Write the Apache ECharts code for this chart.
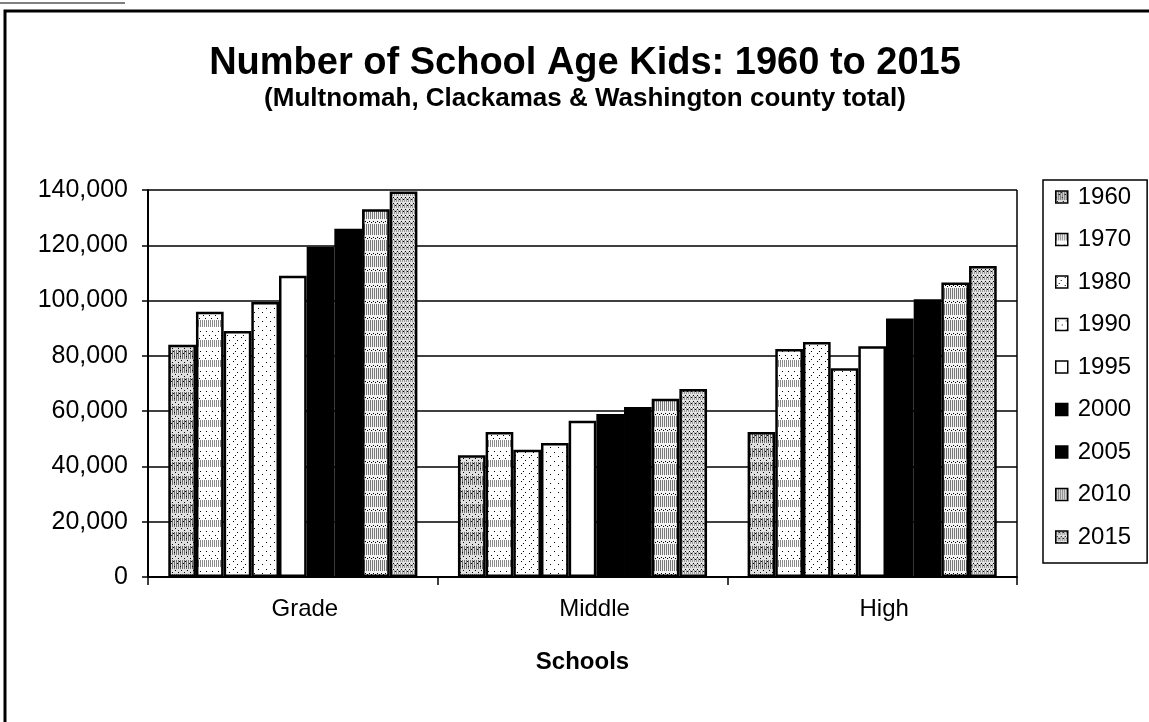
<!DOCTYPE html>
<html>
<head>
<meta charset="utf-8">
<script src="https://cdn.jsdelivr.net/npm/echarts@6/dist/echarts.min.js"></script>
<style>
  html, body { margin: 0; padding: 0; background: #fff; }
  #chart { width: 1149px; height: 722px; }
</style>
</head>
<body>
<div id="chart"></div>
<script>
// categories / series
var schools = ['Grade', 'Middle', 'High'];
var years = ['1960', '1970', '1980', '1990', '1995', '2000', '2005', '2010', '2015'];
var kids1960 = [84000, 44000, 52500];
var kids1970 = [96000, 52500, 82500];
var kids1980 = [89000, 46000, 85000];
var kids1990 = [99500, 48500, 75500];
var kids1995 = [109000, 56500, 83500];
var kids2000 = [119500, 59000, 93500];
var kids2005 = [126000, 61500, 100500];
var kids2010 = [133000, 64500, 106500];
var kids2015 = [139500, 68000, 112500];
var seriesValues = [kids1960, kids1970, kids1980, kids1990, kids1995, kids2000, kids2005, kids2010, kids2015];

// little fill textures to look like the printed hatching
function makePattern(w, h, bg, stripe, stripeRows, dots) {
  var c = document.createElement('canvas');
  c.width = w; c.height = h;
  var ctx = c.getContext('2d');
  ctx.fillStyle = bg;
  ctx.fillRect(0, 0, w, h);
  if (stripe) {
    ctx.fillStyle = stripe;
    for (var x = 0; x < w; x += 2) {
      ctx.fillRect(x, stripeRows[0], 1, stripeRows[1] - stripeRows[0]);
    }
  }
  ctx.fillStyle = '#000';
  (dots || []).forEach(function (d) { ctx.fillRect(d[0], d[1], 1, 1); });
  return { image: c, repeat: 'repeat' };
}

var fills = [
  makePattern(6, 14, '#e0e0e0', '#6e6e6e', [0, 9], [[1, 10], [4, 12], [3, 3], [0, 6], [5, 1]]),
  makePattern(6, 20, '#fff', '#8a8a8a', [0, 7], [[2, 11], [5, 15], [1, 18]]),
  makePattern(8, 8, '#fff', null, null, [[1, 1], [5, 4], [3, 7]]),
  makePattern(8, 9, '#fff', null, null, [[2, 2], [6, 6]]),
  '#fff',
  '#000',
  '#000',
  makePattern(4, 16, '#f2f2f2', '#777', [0, 11], [[1, 13], [3, 14]]),
  makePattern(4, 6, '#e2e2e2', '#9a9a9a', [0, 4], [[1, 5], [3, 1]])
];

var chart = echarts.init(document.getElementById('chart'));

var series = years.map(function (y, i) {
  return {
    name: y,
    type: 'bar',
    data: seriesValues[i],
    barGap: '0%',
    barCategoryGap: '14%',
    itemStyle: { color: fills[i], borderColor: '#000', borderWidth: 2.5 }
  };
});

var option = {
  backgroundColor: '#fff',
  animation: false,
  textStyle: { fontFamily: 'Liberation Sans', color: '#000' },
  title: {
    text: 'Number of School Age Kids: 1960 to 2015',
    subtext: '(Multnomah, Clackamas & Washington county total)',
    left: 580,
    textAlign: 'center',
    top: 40,
    itemGap: 3,
    textStyle: { fontSize: 38, fontWeight: 'bold', color: '#000', fontFamily: 'Liberation Sans' },
    subtextStyle: { fontSize: 26, fontWeight: 'bold', color: '#000', fontFamily: 'Liberation Sans' }
  },
  legend: {
    orient: 'vertical',
    left: 1043,
    top: 180,
    padding: [5, 16, 14, 12],
    icon: 'rect',
    itemWidth: 12,
    itemHeight: 12,
    itemGap: 18.5,
    itemStyle: { borderColor: '#000', borderWidth: 1.5 },
    borderColor: '#000',
    borderWidth: 1.5,
    textStyle: { fontSize: 24, color: '#000', padding: [0, 0, 0, 5], lineHeight: 24 },
    data: years
  },
  grid: { left: 148, right: 132, top: 190, bottom: 145 },
  xAxis: {
    type: 'category',
    data: schools,
    name: 'Schools',
    nameLocation: 'middle',
    nameGap: 73,
    nameTextStyle: { fontSize: 24, fontWeight: 'bold', color: '#000' },
    axisLine: { lineStyle: { color: '#000', width: 2 } },
    axisTick: { show: true, length: 8, lineStyle: { color: '#000', width: 1.5 } },
    axisLabel: { fontSize: 24, color: '#000', margin: 20, padding: [0, 0, 0, 24] }
  },
  yAxis: {
    type: 'value',
    min: 0,
    max: 140000,
    interval: 20000,
    axisLine: { show: true, lineStyle: { color: '#000', width: 2 } },
    axisTick: { show: true, length: 6, lineStyle: { color: '#000', width: 1.5 } },
    axisLabel: {
      fontSize: 25, color: '#000', margin: 20,
      formatter: function (v) { return v.toLocaleString('en-US'); }
    },
    splitLine: { lineStyle: { color: '#000', width: 1.5 } }
  },
  graphic: [
    // page frame around the figure
    { type: 'rect', shape: { x: 5, y: 11, width: 1160, height: 730 }, style: { fill: 'none', stroke: '#000', lineWidth: 3 } },
    { type: 'line', shape: { x1: 0, y1: 3, x2: 125, y2: 3 }, style: { stroke: '#000', lineWidth: 1 } },
    // right edge of the plot box
    { type: 'line', shape: { x1: 1017, y1: 190, x2: 1017, y2: 577 }, style: { stroke: '#000', lineWidth: 1.5 } }
  ],
  series: series
};

chart.setOption(option);
</script>
</body>
</html>
